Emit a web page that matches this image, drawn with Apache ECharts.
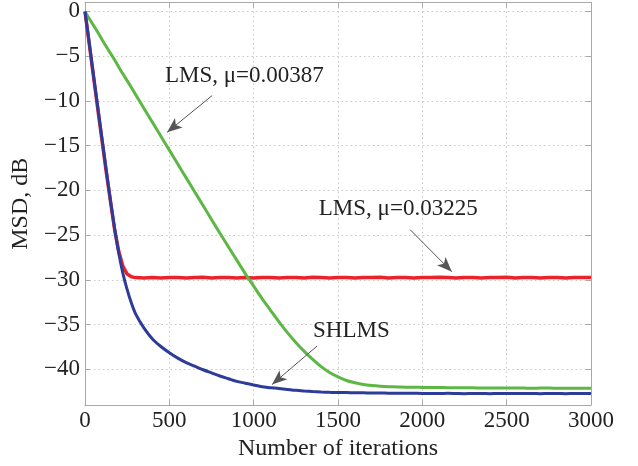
<!DOCTYPE html>
<html>
<head>
<meta charset="utf-8">
<script src="https://cdn.jsdelivr.net/npm/echarts@6/dist/echarts.min.js"></script>
<style>html,body{margin:0;padding:0;background:#fff}#c{width:638px;height:466px}</style>
</head>
<body>
<div id="c"></div>
<script>
// ---- data ----
var iterations = [0,25,50,75,100,125,150,175,200,225,250,275,300,
  350,400,450,500,550,600,650,700,750,800,850,900,950,1000,1050,1100,1150,1200,1250,1300,1350,1400,1450,1500,
  1550,1600,1650,1700,1750,1800,1850,1900,1950,2000,2050,2100,2150,2200,2250,2300,2350,2400,2450,2500,
  2550,2600,2650,2700,2750,2800,2850,2900,2950,3000];

var lmsFast = [0,-3.6,-7.2,-10.8,-14.3,-17.8,-21.1,-24.3,-26.8,-28.5,-29.35,-29.65,-29.75,
  -29.8,-29.75,-29.8,-29.75,-29.75,-29.8,-29.75,-29.7,-29.8,-29.75,-29.75,-29.8,-29.75,-29.8,-29.75,-29.75,-29.8,-29.75,-29.75,-29.8,-29.7,-29.75,-29.8,-29.75,
  -29.75,-29.8,-29.75,-29.75,-29.7,-29.8,-29.75,-29.75,-29.8,-29.75,-29.75,-29.7,-29.75,-29.8,-29.75,-29.75,-29.8,-29.75,-29.75,-29.7,
  -29.8,-29.75,-29.75,-29.8,-29.75,-29.75,-29.8,-29.75,-29.75,-29.75];

var lmsSlow = [0,-0.8,-1.55,-2.3,-3.1,-3.9,-4.65,-5.4,-6.2,-7.0,-7.75,-8.5,-9.3,
  -10.85,-12.4,-13.95,-15.5,-17.05,-18.6,-20.15,-21.7,-23.25,-24.8,-26.3,-27.8,-29.3,-30.7,-32.1,-33.4,-34.7,-35.9,-37.0,-38.0,-38.9,-39.7,-40.35,-40.85,
  -41.25,-41.5,-41.7,-41.82,-41.9,-41.95,-41.97,-42.0,-42.0,-42.02,-42.03,-42.03,-42.05,-42.05,-42.07,-42.07,-42.08,-42.08,-42.08,-42.1,
  -42.1,-42.1,-42.12,-42.1,-42.1,-42.12,-42.13,-42.12,-42.12,-42.13];

var shlms = [0,-3.5,-7.1,-10.6,-14.1,-17.6,-21.0,-24.2,-27.0,-29.3,-31.1,-32.6,-33.8,
  -35.4,-36.6,-37.45,-38.15,-38.75,-39.25,-39.65,-40.05,-40.4,-40.75,-41.05,-41.35,-41.55,-41.75,-41.95,-42.05,-42.15,-42.25,-42.35,-42.42,-42.48,-42.53,-42.57,-42.6,
  -42.6,-42.62,-42.62,-42.65,-42.65,-42.67,-42.67,-42.67,-42.68,-42.7,-42.7,-42.7,-42.68,-42.7,-42.72,-42.7,-42.7,-42.72,-42.7,-42.7,
  -42.7,-42.7,-42.7,-42.72,-42.7,-42.7,-42.72,-42.7,-42.7,-42.7];

var xTicks = [0,500,1000,1500,2000,2500,3000];
var yTicks = [0,-5,-10,-15,-20,-25,-30,-35,-40];

var annTexts = ['LMS, \u03bc=0.00387', 'LMS, \u03bc=0.03225', 'SHLMS'];
var annTextAt = [[945,-7.2],[1857,-22.1],[1579,-35.7]];
var annArrowFrom = [[754,-9.4],[1928,-24.4],[1376,-37.4]];
var annArrowTo = [[487,-13.5],[2175,-29.1],[1109,-41.7]];

// ---- chart ----
function pairs(vals){ return iterations.map(function(x,i){return [x, vals[i]];}); }
var FONT = '"Liberation Serif","Times New Roman",serif';
var frame = '#a8a8a8';

var chart = echarts.init(document.getElementById('c'), null, {renderer:'canvas'});
var axisLine = {show:true,onZero:false,lineStyle:{color:frame,width:1}};
var axisTick = {show:true,inside:true,length:5,lineStyle:{color:frame}};
var gridLine = {show:true,lineStyle:{color:'#c8c8c8',type:[1.5,3],width:1}};
chart.setOption({
  animation:false,
  backgroundColor:'#fff',
  grid:{left:85,right:47,top:1,bottom:58,containLabel:false},
  xAxis:[{
    type:'value',min:0,max:3000,interval:500,position:'bottom',
    axisLine:axisLine,axisTick:axisTick,
    axisLabel:{color:'#222',fontFamily:FONT,fontSize:23,margin:4,
      formatter:function(v){return xTicks.indexOf(v)>=0?String(v):'';}},
    splitLine:gridLine,
    name:'Number of iterations',nameLocation:'middle',nameGap:23,
    nameTextStyle:{color:'#222',fontFamily:FONT,fontSize:24}
  },{
    type:'value',min:0,max:3000,interval:500,position:'top',
    axisLine:axisLine,axisTick:axisTick,
    axisLabel:{show:false},splitLine:{show:false}
  }],
  yAxis:[{
    type:'value',min:-44,max:1,splitNumber:9,minInterval:5,maxInterval:5,position:'left',
    axisLine:axisLine,axisTick:axisTick,
    axisLabel:{color:'#222',fontFamily:FONT,fontSize:23,margin:5,showMinLabel:false,showMaxLabel:false,
      formatter:function(v){return yTicks.indexOf(v)>=0?String(v).replace('-','\u2212'):'';}},
    splitLine:gridLine,
    name:'MSD, dB',nameLocation:'middle',nameGap:46,nameRotate:90,
    nameTextStyle:{color:'#222',fontFamily:FONT,fontSize:24}
  },{
    type:'value',min:-44,max:1,splitNumber:9,minInterval:5,maxInterval:5,position:'right',
    axisLine:axisLine,axisTick:axisTick,
    axisLabel:{show:false},splitLine:{show:false}
  }],
  series:[
    {type:'line',name:'LMS fast',data:pairs(lmsFast),showSymbol:false,symbol:'none',
     lineStyle:{color:'#e8232b',width:3.5},z:2},
    {type:'line',name:'LMS slow',data:pairs(lmsSlow),showSymbol:false,symbol:'none',
     smooth:0.3,
     lineStyle:{color:'#5db745',width:3},z:3},
    {type:'line',name:'SHLMS',data:pairs(shlms),showSymbol:false,symbol:'none',
     smooth:0.3,
     lineStyle:{color:'#2c3c98',width:3},z:4,
     markLine:{silent:true,symbol:['none','arrow'],symbolSize:[9,15],animation:false,
       lineStyle:{color:'#555',width:1,type:'solid'},label:{show:false},
       data:annArrowFrom.map(function(f,i){return [{coord:f},{coord:annArrowTo[i]}];})},
     markPoint:{silent:true,symbol:'circle',symbolSize:0,animation:false,
       label:{show:true,position:'inside',color:'#222',fontFamily:FONT,fontSize:23,
         formatter:function(p){return p.name;}},
       data:annTexts.map(function(t,i){return {name:t,coord:annTextAt[i]};})}
    }
  ]
});
</script>
</body>
</html>
